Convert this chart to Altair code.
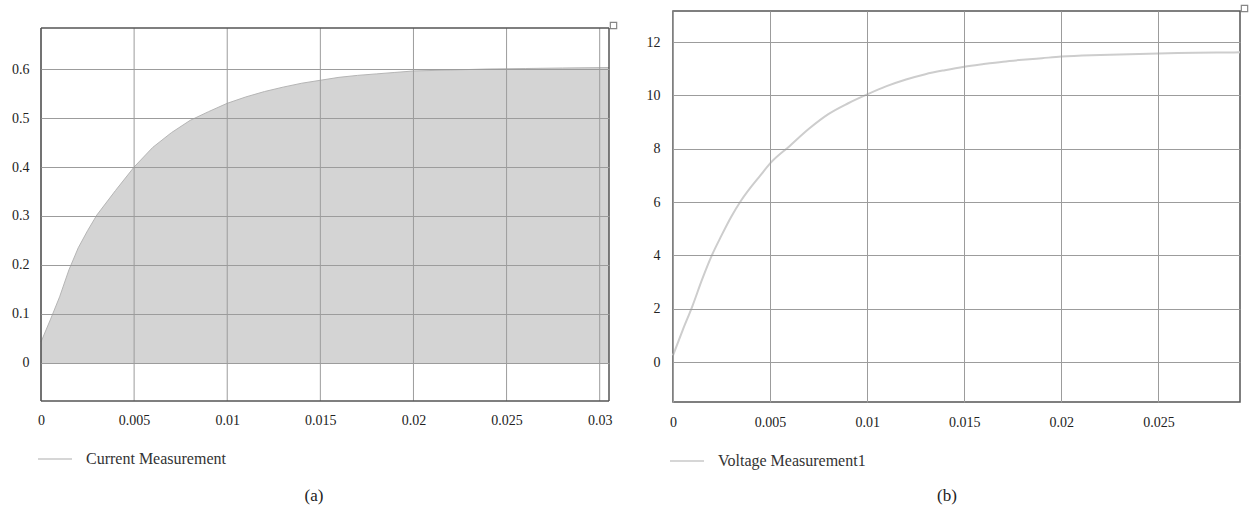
import altair as alt
import pandas as pd

FONT = "Liberation Serif"

# ---- data ----
cur_t = [0, 0.0005, 0.001, 0.0015, 0.002, 0.0025, 0.003, 0.004, 0.005, 0.006, 0.007,
         0.008, 0.009, 0.010, 0.011, 0.012, 0.013, 0.014, 0.015, 0.016, 0.017, 0.018,
         0.019, 0.020, 0.022, 0.024, 0.026, 0.028, 0.0305]
cur_v = [0.043, 0.088, 0.135, 0.19, 0.235, 0.27, 0.302, 0.352, 0.40, 0.44, 0.47,
         0.495, 0.513, 0.530, 0.543, 0.554, 0.563, 0.571, 0.577, 0.583, 0.587, 0.590,
         0.593, 0.596, 0.598, 0.600, 0.601, 0.602, 0.603]

volt_t = [0, 0.0005, 0.001, 0.0015, 0.002, 0.0025, 0.003, 0.0035, 0.004, 0.0045, 0.005,
          0.006, 0.007, 0.008, 0.009, 0.010, 0.011, 0.012, 0.013, 0.014, 0.015, 0.016,
          0.017, 0.018, 0.019, 0.020, 0.022, 0.024, 0.026, 0.028, 0.0292]
volt_v = [0.25, 1.2, 2.1, 3.1, 4.0, 4.75, 5.45, 6.05, 6.55, 7.0, 7.45,
          8.1, 8.75, 9.3, 9.7, 10.04, 10.35, 10.6, 10.8, 10.95, 11.08, 11.18,
          11.27, 11.34, 11.4, 11.46, 11.52, 11.56, 11.59, 11.61, 11.62]

x_ticks_a = [0, 0.005, 0.01, 0.015, 0.02, 0.025, 0.03]
y_ticks_a = [0, 0.1, 0.2, 0.3, 0.4, 0.5, 0.6]
x_ticks_b = [0, 0.005, 0.01, 0.015, 0.02, 0.025]
y_ticks_b = [0, 2, 4, 6, 8, 10, 12]

legend_labels = ["Current Measurement", "Voltage Measurement1"]
captions = ["(a)", "(b)"]

W1, H1 = 568, 390   # panel (a): frame starts TOP_A px below the cell top
TOP_A = 17
W2, H2 = 567, 391

GRID = "#9c9c9c"
FRAME = "#555555"

one = pd.DataFrame({"a": [0]})


def ax(values, pad, grid=True):
    return alt.Axis(values=values, title=None, grid=grid, gridColor=GRID,
                    gridWidth=1, ticks=False, domain=False, labelFont=FONT,
                    labelFontSize=14, labelColor="#222222", format="~g",
                    labelPadding=pad, labelFlush=False, zindex=1)


def extras(w, top, leg_y, label, cap, cap_x, cap_y):
    line = alt.Chart(one).mark_rule(color="#c8c8c8", strokeWidth=1.5).encode(
        x=alt.value(-3), x2=alt.value(31), y=alt.value(leg_y))
    txt = alt.Chart(one).mark_text(text=label, align="left", baseline="middle",
                                   font=FONT, fontSize=16, color="#333333").encode(
        x=alt.value(45), y=alt.value(leg_y))
    captxt = alt.Chart(one).mark_text(text=cap, align="center", baseline="middle",
                                      font=FONT, fontSize=17, color="#222222").encode(
        x=alt.value(cap_x), y=alt.value(cap_y))
    icon = alt.Chart(one).mark_point(shape="square", size=40, filled=False,
                                     color=FRAME, strokeWidth=1.2).encode(
        x=alt.value(w + 4.5), y=alt.value(top - 2.5))
    return [line, txt, captxt, icon]


# ---- panel (a) ----
cur = pd.DataFrame({"t": cur_t, "v": cur_v})
xs1 = alt.Scale(domain=[0, 0.0305], nice=False, zero=False)
ys1 = alt.Scale(domain=[-0.0776, 0.7184], nice=False, zero=False)
area = alt.Chart(cur).mark_area(color="#d4d4d4", opacity=1,
                                line={"color": "#b5b5b5", "strokeWidth": 1}).encode(
    x=alt.X("t:Q", scale=xs1, axis=ax(x_ticks_a, 12, grid=False)),
    y=alt.Y("v:Q", scale=ys1, axis=ax(y_ticks_a, 12)),
    y2=alt.datum(0),
)
vgrid = alt.Chart(pd.DataFrame({"t": x_ticks_a})).mark_rule(color=GRID, strokeWidth=1).encode(
    x=alt.X("t:Q", scale=xs1), y=alt.value(TOP_A), y2=alt.value(H1))
frame_a = [
    alt.Chart(one).mark_rule(color=FRAME, strokeWidth=1.5).encode(
        x=alt.value(0), x2=alt.value(W1), y=alt.value(TOP_A)),
    alt.Chart(one).mark_rule(color=FRAME, strokeWidth=1.5).encode(
        x=alt.value(0), x2=alt.value(W1), y=alt.value(H1)),
    alt.Chart(one).mark_rule(color=FRAME, strokeWidth=1.5).encode(
        x=alt.value(0), y=alt.value(TOP_A), y2=alt.value(H1)),
    alt.Chart(one).mark_rule(color=FRAME, strokeWidth=1.5).encode(
        x=alt.value(W1), y=alt.value(TOP_A), y2=alt.value(H1)),
]
panel_a = alt.layer(area, vgrid, *frame_a,
                    *extras(W1, TOP_A, 448, legend_labels[0], captions[0], 273, 485)).properties(
    width=W1, height=H1, view=alt.ViewBackground(strokeOpacity=0))

# ---- panel (b) ----
volt = pd.DataFrame({"t": volt_t, "v": volt_v})
xs2 = alt.Scale(domain=[0, 0.0292], nice=False, zero=False)
ys2 = alt.Scale(domain=[-1.5, 13.17], nice=False, zero=False)
vline = alt.Chart(volt).mark_line(color="#cdcdcd", strokeWidth=2, interpolate="monotone").encode(
    x=alt.X("t:Q", scale=xs2, axis=ax(x_ticks_b, 13)),
    y=alt.Y("v:Q", scale=ys2, axis=ax(y_ticks_b, 13)),
)
panel_b = alt.layer(vline, *extras(W2, 0, 450, legend_labels[1], captions[1], 274, 485)).properties(
    width=W2, height=H2)

chart = alt.hconcat(panel_a, panel_b, spacing=25).properties(
    padding={"left": 11, "top": 2, "right": 0, "bottom": 0},
    background="white",
).configure_view(stroke=FRAME, strokeWidth=1.5)

chart.save("out.html", embed_options={"renderer": "svg", "actions": False})
